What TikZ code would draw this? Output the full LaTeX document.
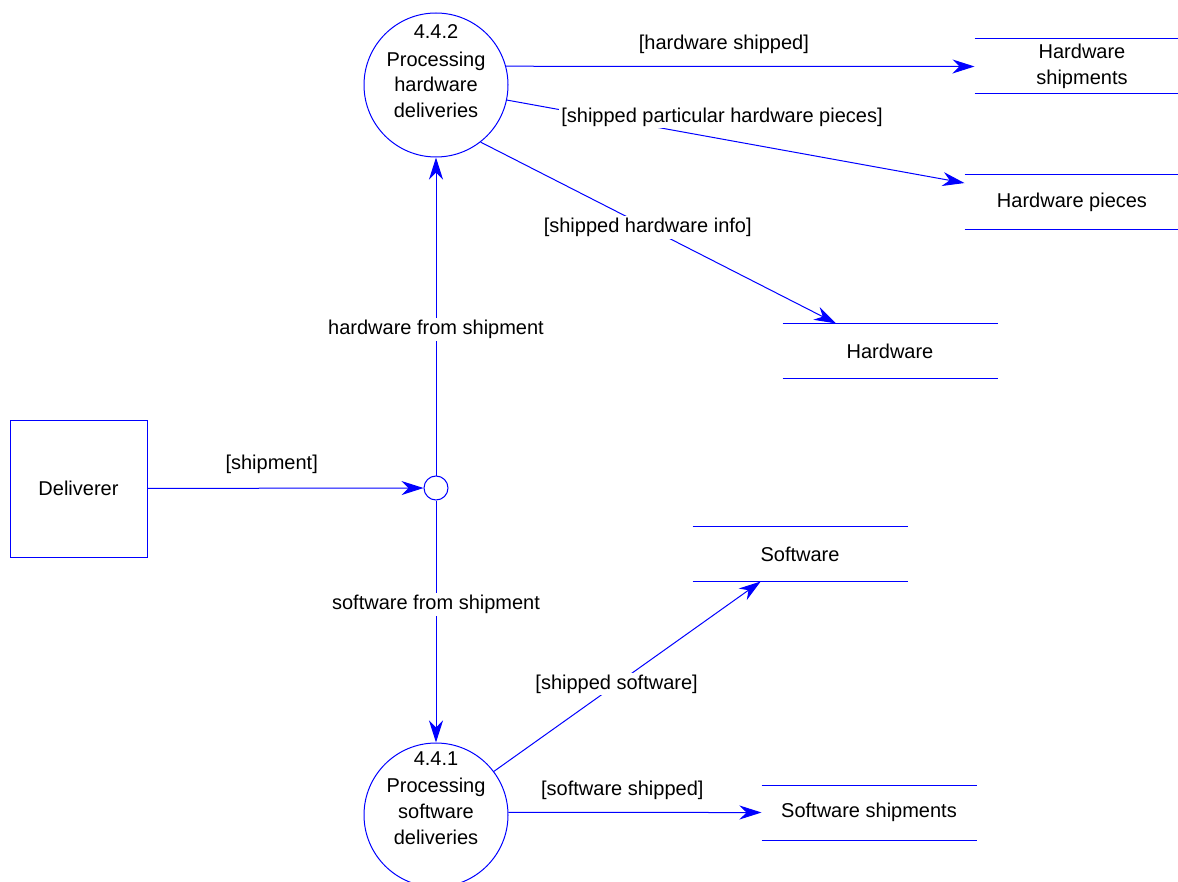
\documentclass[tikz,border=0pt]{standalone}
\usepackage{fontspec}
\setmainfont{Liberation Sans}
\usetikzlibrary{arrows.meta, positioning}

\begin{document}
\begin{tikzpicture}[x=0.5pt, y=-0.5pt, line width=0.5pt,
	every node/.style={font=\fontsize{10}{12.8}\selectfont, align=center},
	process/.style={circle, draw=blue, inner sep=0pt, minimum size=72pt},
	junction/.style={circle, draw=blue, inner sep=0pt, minimum size=12pt},
	entity/.style={rectangle, draw=blue, inner sep=0pt, minimum size=68.5pt},
	store/.style={rectangle, draw=none, inner sep=0pt, minimum width=107pt, minimum height=27pt},
	flow/.style={->, draw=blue},
	lbl/.style={fill=white, inner sep=1pt},
	>={Stealth[length=11pt, width=7pt, inset=3.5pt]}]
	\useasboundingbox (0,0) rectangle (1178,882);

	% Nodes
	\node[process] (p442) at (436,85) {};
	\node (t442) at (436,71) {4.4.2\\[1pt]Processing\\hardware\\deliveries};
	\node[process] (p441) at (436,815) {};
	\node (t441) at (436,798) {4.4.1\\[1pt]Processing\\software\\deliveries};
	\node[junction] (jn) at (436,488) {};
	\node[entity] (del) at (78.5,488.5) {Deliverer};

	% Stores
	\node[store] (hws) at (1082,66.5) {Hardware\\shipments};
	\node[store] (hwp) at (1072,202) {Hardware pieces};
	\node[store] (hw) at (890,351) {Hardware};
	\node[store] (sw) at (800,554) {Software};
	\node[store] (sws) at (869,812.5) {Software shipments};
	\foreach \s in {hws, hwp, hw, sw, sws}
		\draw[blue] (\s.north west) -- (\s.north east) (\s.south west) -- (\s.south east);

	% Flows
	\draw[flow] (del) -- (jn) node[pos=0.45, yshift=12pt] {[shipment]};
	\draw[flow] (jn) -- (p442) node[lbl, pos=0.46] {hardware from shipment};
	\draw[flow] (jn) -- (p441) node[lbl, pos=0.43] {software from shipment};
	\draw[flow] (p442.15) -- (hws.west) node[pos=0.465, yshift=11pt] {[hardware shipped]};
	\draw[flow] (p442.-12) -- (hwp.170) node[lbl, pos=0.47, yshift=11pt] {[shipped particular hardware pieces]};
	\draw[flow] (p442.-52) -- (hw) node[lbl, pos=0.47] {[shipped hardware info]};
	\draw[flow] (p441.37) -- (sw.215) node[lbl, pos=0.46] {[shipped software]};
	\draw[flow] (p441.2) -- (sws.west) node[pos=0.45, yshift=11pt] {[software shipped]};
\end{tikzpicture}
\end{document}
